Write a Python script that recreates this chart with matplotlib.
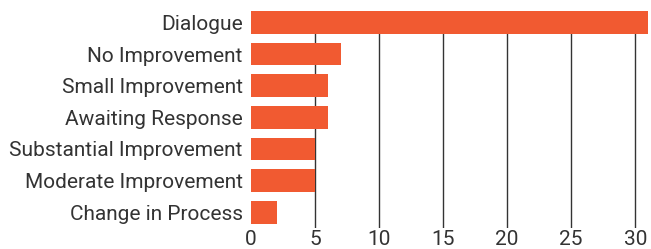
import matplotlib
matplotlib.use("Agg")
import matplotlib.pyplot as plt

# data (bottom to top as drawn)
categories = ["Change in Process", "Moderate Improvement", "Substantial Improvement",
              "Awaiting Response", "Small Improvement", "No Improvement", "Dialogue"]
counts = [2, 5, 5, 6, 6, 7, 31]
xticks = [0, 5, 10, 15, 20, 25, 30]

plt.rcParams['font.family'] = ['Roboto', 'DejaVu Sans']

fig = plt.figure(figsize=(6.51, 2.49), dpi=100)
ax = fig.add_axes([251 / 651, 21 / 249, 397 / 651, 217 / 249])

ax.barh(range(len(categories)), counts, height=0.72, color="#F15A31", zorder=2)

ax.set_xlim(0, 31)
ax.set_ylim(-0.5, len(categories) - 1 + 0.36)
ax.set_xticks(xticks)
ax.set_yticks(range(len(categories)))
ax.set_yticklabels(categories)

# vertical grid lines behind the bars
for x in xticks[1:]:
    ax.axvline(x, color="#333333", linewidth=1, zorder=1)

for s in ax.spines.values():
    s.set_visible(False)
ax.tick_params(length=0, labelsize=15, colors="#333333")
ax.tick_params(axis='y', pad=6)
ax.tick_params(axis='x', pad=1.5)

fig.savefig("out.png", dpi=100)
